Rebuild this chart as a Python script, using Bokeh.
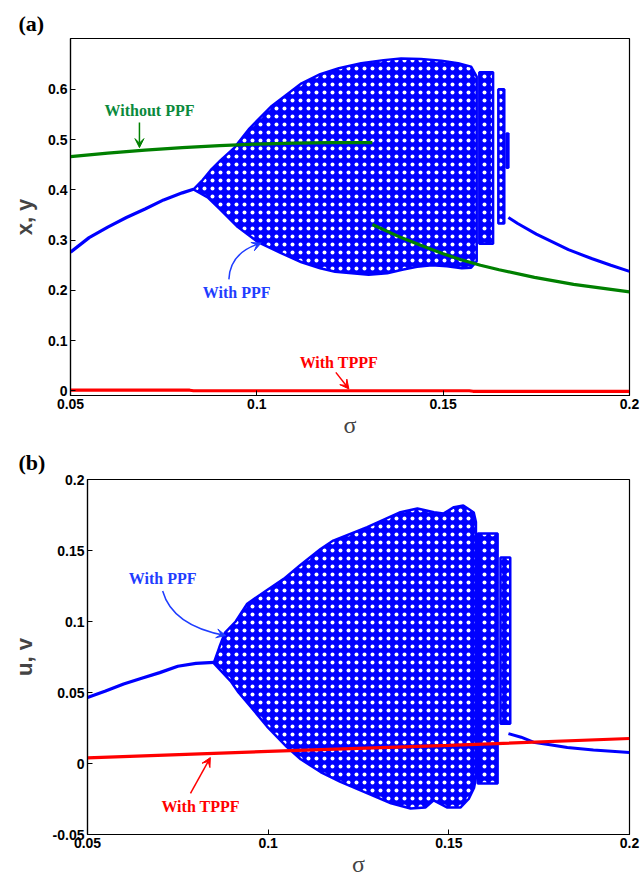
from bokeh.plotting import figure
from bokeh.models import (FixedTicker, LinearAxis, Label, Arrow, VeeHead, Range1d, Title)
from bokeh.embed import file_html
from bokeh.resources import INLINE

# ---------------- Panel (a): x, y ----------------
x_ticks = [0.05, 0.1, 0.15, 0.2]
x_tick_labels = ["0.05", "0.1", "0.15", "0.2"]
ya_ticks = [0, 0.1, 0.2, 0.3, 0.4, 0.5, 0.6]
ya_tick_labels = ["0", "0.1", "0.2", "0.3", "0.4", "0.5", "0.6"]

# With PPF: single branch before the fan
sigma_a_left = [0.05, 0.055, 0.06, 0.065, 0.07, 0.075, 0.08, 0.083]
xy_a_left = [0.276, 0.305, 0.326, 0.345, 0.362, 0.380, 0.394, 0.401]
# With PPF: envelope of the chaotic band
sigma_a_up = [0.083, 0.0855, 0.0876, 0.0903, 0.094, 0.098, 0.104, 0.112, 0.117, 0.122,
              0.128, 0.134, 0.1387, 0.144, 0.1495, 0.154, 0.1575, 0.159]
xy_a_up = [0.401, 0.420, 0.439, 0.459, 0.484, 0.522, 0.567, 0.612, 0.630, 0.642,
           0.652, 0.658, 0.661, 0.660, 0.657, 0.652, 0.645, 0.625]
sigma_a_lo = [0.083, 0.0868, 0.09, 0.0949, 0.1003, 0.1065, 0.112, 0.117, 0.121, 0.13,
              0.135, 0.139, 0.143, 0.147, 0.151, 0.155, 0.1575, 0.159]
xy_a_lo = [0.401, 0.385, 0.362, 0.326, 0.296, 0.274, 0.256, 0.244, 0.237, 0.231,
           0.234, 0.241, 0.247, 0.250, 0.248, 0.244, 0.245, 0.258]
# With PPF: narrow chaotic columns near the end of the band
col_a_left = [0.1597, 0.1648, 0.1670]
col_a_right = [0.1634, 0.1664, 0.1675]
col_a_bottom = [0.293, 0.333, 0.444]
col_a_top = [0.634, 0.600, 0.512]
# With PPF: branch after the band
sigma_a_right = [0.1675, 0.17, 0.175, 0.18, 0.1836, 0.19, 0.195, 0.2]
xy_a_right = [0.345, 0.333, 0.312, 0.294, 0.281, 0.263, 0.250, 0.238]
# Without PPF
sigma_a_nopf1 = [0.05, 0.06, 0.07, 0.08, 0.09, 0.1, 0.11, 0.12, 0.131]
xy_a_nopf1 = [0.466, 0.473, 0.479, 0.484, 0.488, 0.491, 0.493, 0.494, 0.494]
sigma_a_nopf2 = [0.131, 0.1387, 0.145, 0.15, 0.1548, 0.16, 0.165, 0.1745, 0.185, 0.2]
xy_a_nopf2 = [0.331, 0.305, 0.287, 0.273, 0.261, 0.250, 0.241, 0.226, 0.212, 0.197]
# With TPPF
sigma_a_tppf = [0.05, 0.082, 0.083, 0.157, 0.158, 0.2]
xy_a_tppf = [0.0015, 0.0015, 0.0004, 0.0004, -0.0006, -0.0006]

# ---------------- Panel (b): u, v ----------------
yb_ticks = [-0.05, 0, 0.05, 0.1, 0.15, 0.2]
yb_tick_labels = ["-0.05", "0", "0.05", "0.1", "0.15", "0.2"]

sigma_b_left = [0.05, 0.055, 0.06, 0.065, 0.07, 0.075, 0.08, 0.085]
uv_b_left = [0.0465, 0.051, 0.056, 0.060, 0.064, 0.0685, 0.0705, 0.0712]
sigma_b_up = [0.085, 0.0865, 0.088, 0.091, 0.0942, 0.099, 0.1043, 0.109, 0.1145, 0.118,
              0.1274, 0.1366, 0.1413, 0.1459, 0.1485, 0.1514, 0.154, 0.1569, 0.1575]
uv_b_up = [0.0712, 0.082, 0.092, 0.100, 0.1125, 0.121, 0.130, 0.140, 0.151, 0.157,
           0.1664, 0.177, 0.1796, 0.177, 0.176, 0.1805, 0.1817, 0.1768, 0.170]
sigma_b_lo = [0.085, 0.0896, 0.0918, 0.0955, 0.0997, 0.1052, 0.109, 0.1145, 0.12, 0.1275,
              0.134, 0.1394, 0.1435, 0.1458, 0.1496, 0.1532, 0.1555, 0.157, 0.1575]
uv_b_lo = [0.0705, 0.058, 0.050, 0.039, 0.026, 0.0115, 0.003, -0.006, -0.013, -0.021,
           -0.028, -0.0317, -0.031, -0.026, -0.031, -0.031, -0.025, -0.017, -0.010]
col_b_left = [0.1580, 0.1643]
col_b_right = [0.1635, 0.1670]
col_b_bottom = [-0.014, 0.028]
col_b_top = [0.162, 0.145]
sigma_b_right = [0.1665, 0.17, 0.1734, 0.178, 0.1828, 0.19, 0.2]
uv_b_right = [0.021, 0.0185, 0.015, 0.0132, 0.0113, 0.0095, 0.0077]
sigma_b_tppf = [0.05, 0.1, 0.15, 0.2]
uv_b_tppf = [0.004, 0.0085, 0.0127, 0.0176]

BLUE = "#0000FF"
GREEN = "#008000"
RED = "#FF0000"
TXT_GREEN = "#0A8A3C"
TXT_BLUE = "#1F3DFF"
SANS = "Liberation Sans"
SERIF = "Liberation Serif"


def make_fig(frame_w, frame_h, border_left, border_top, border_bottom, y_lo, y_hi,
             y_ticks, y_labels, panel_tag, tag_standoff, y_label, y_label_standoff):
    p = figure(frame_width=frame_w, frame_height=frame_h, x_range=Range1d(0.05, 0.2),
               y_range=Range1d(y_lo, y_hi), output_backend="svg",
               toolbar_location=None, x_axis_type=None, y_axis_type=None,
               min_border_left=border_left, min_border_right=12,
               min_border_top=border_top, min_border_bottom=border_bottom)
    p.outline_line_color = "black"
    p.outline_line_width = 1.2
    p.outline_line_alpha = 1.0
    p.background_fill_color = "white"
    p.border_fill_color = "white"
    xt = FixedTicker(ticks=x_ticks)
    yt = FixedTicker(ticks=y_ticks)
    xb = LinearAxis(ticker=xt, major_label_overrides=dict(zip(x_ticks, x_tick_labels)),
                    axis_label="σ")
    yl = LinearAxis(ticker=yt, major_label_overrides=dict(zip(y_ticks, y_labels)),
                    axis_label=y_label)
    for ax in (xb, yl):
        ax.major_tick_in = 5
        ax.major_tick_out = 0
        ax.minor_tick_in = 0
        ax.minor_tick_out = 0
        ax.axis_line_color = "black"
        ax.axis_line_width = 1.2
        ax.major_tick_line_color = "black"
        ax.major_label_text_font = SANS
        ax.major_label_text_font_style = "bold"
        ax.major_label_text_color = "black"
        ax.major_label_text_font_size = "14px"
    xb.major_label_standoff = 3
    yl.major_label_standoff = 3
    xb.axis_label_text_font = SERIF
    xb.axis_label_text_font_style = "normal"
    xb.axis_label_text_font_size = "24px"
    xb.axis_label_standoff = 0
    yl.axis_label_text_font = SANS
    yl.axis_label_text_font_style = "bold"
    yl.axis_label_text_font_size = "22px"
    yl.axis_label_standoff = y_label_standoff
    p.add_layout(xb, "below")
    p.add_layout(yl, "left")
    tag = Title(text=panel_tag, align="left", offset=18 - border_left,
                text_font=SERIF, text_font_size="22px", text_font_style="bold",
                standoff=tag_standoff, text_color="black")
    p.add_layout(tag, "above")
    p.xgrid.ticker = xt
    p.ygrid.ticker = yt
    for g in (p.xgrid, p.ygrid):
        g.grid_line_color = "#555555"
        g.grid_line_dash = "1 3"
        g.grid_line_width = 1
        g.grid_line_alpha = 0.9
    return p


def band(p, s_up, v_up, s_lo, v_lo, cl, cr, cb, ct):
    xs = list(s_up) + list(reversed(s_lo))
    ys = list(v_up) + list(reversed(v_lo))
    kw = dict(fill_color=BLUE, line_color=BLUE, line_width=2.5,
              hatch_pattern="dot", hatch_color="white", hatch_scale=8,
              hatch_weight=1.0)
    p.patch(xs, ys, **kw)
    p.quad(left=cl, right=cr, bottom=cb, top=ct, **kw)


def text(p, x, y, s, color, size="16px"):
    p.add_layout(Label(x=x, y=y, text=s, text_color=color, text_font=SERIF,
                       text_font_size=size, text_font_style="bold",
                       text_align="center", text_baseline="middle"))


def arrow(p, x0, y0, x1, y1, color, line=True):
    p.add_layout(Arrow(x_start=x0, y_start=y0, x_end=x1, y_end=y1,
                       line_color=color, line_width=1.5, line_alpha=1.0 if line else 0.0,
                       end=VeeHead(size=9, fill_color=color, line_color=color)))


# ---------------- build (a) ----------------
pa = make_fig(559, 357, 70, 38, 47, -0.009, 0.701, ya_ticks, ya_tick_labels,
              "(a)", 6, "x, y", 8)
pa.line(sigma_a_left, xy_a_left, line_color=BLUE, line_width=3.2)
band(pa, sigma_a_up, xy_a_up, sigma_a_lo, xy_a_lo,
     col_a_left, col_a_right, col_a_bottom, col_a_top)
pa.line(sigma_a_right, xy_a_right, line_color=BLUE, line_width=3)
pa.line(sigma_a_nopf1, xy_a_nopf1, line_color=GREEN, line_width=3.2)
pa.line(sigma_a_nopf2, xy_a_nopf2, line_color=GREEN, line_width=3.2)
pa.line(sigma_a_tppf, xy_a_tppf, line_color=RED, line_width=3.2)

text(pa, 0.0712, 0.558, "Without PPF", TXT_GREEN)
arrow(pa, 0.0685, 0.534, 0.0685, 0.484, GREEN)
text(pa, 0.0946, 0.196, "With PPF", TXT_BLUE)
pa.quadratic(x0=[0.0925], y0=[0.222], x1=[0.1011], y1=[0.294], cx=[0.0928], cy=[0.276],
             line_color=TXT_BLUE, line_width=1.5)
arrow(pa, 0.0985, 0.286, 0.1011, 0.294, TXT_BLUE, line=False)
text(pa, 0.122, 0.057, "With TPPF", RED)
arrow(pa, 0.1212, 0.037, 0.1247, 0.004, RED)

# ---------------- build (b) ----------------
pb = make_fig(542, 355, 87, 36, 45, -0.05, 0.2, yb_ticks, yb_tick_labels,
              "(b)", 10, "u, v", 13)
pb.line(sigma_b_left, uv_b_left, line_color=BLUE, line_width=3.2)
band(pb, sigma_b_up, uv_b_up, sigma_b_lo, uv_b_lo,
     col_b_left, col_b_right, col_b_bottom, col_b_top)
pb.line(sigma_b_right, uv_b_right, line_color=BLUE, line_width=3)
pb.line(sigma_b_tppf, uv_b_tppf, line_color=RED, line_width=3.2)

text(pb, 0.0708, 0.130, "With PPF", TXT_BLUE)
pb.quadratic(x0=[0.0708], y0=[0.1215], x1=[0.0882], y1=[0.0901], cx=[0.0735], cy=[0.097],
             line_color=TXT_BLUE, line_width=1.5)
arrow(pb, 0.0855, 0.0918, 0.0882, 0.0901, TXT_BLUE, line=False)
text(pb, 0.0813, -0.0303, "With TPPF", RED)
arrow(pb, 0.0785, -0.021, 0.0840, 0.0042, RED)

open("out.html", "w").write(file_html([pa, pb], INLINE))
